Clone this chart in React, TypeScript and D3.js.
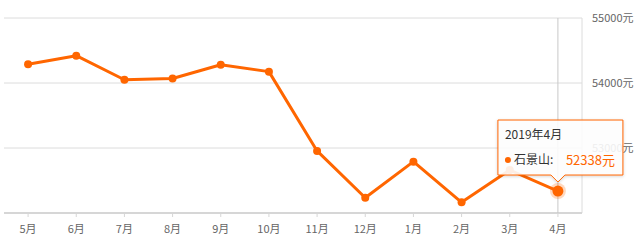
import React from "react";
import * as d3 from "d3";

const months = ["5月", "6月", "7月", "8月", "9月", "10月", "11月", "12月", "1月", "2月", "3月", "4月"];
const prices = [54290, 54420, 54050, 54070, 54280, 54175, 52955, 52235, 52790, 52165, 52660, 52338];
const yTicks = [53000, 54000, 55000];
const seriesName = "石景山";
const tooltipTitle = "2019年4月";

const W = 640;
const H = 242;
const ORANGE = "#ff6600";
const FONT = "'Noto Sans CJK SC', 'Microsoft YaHei', sans-serif";

export default function App() {
  const x = d3.scalePoint<string>().domain(months).range([4, 582]).padding(0.5);
  const y = d3.scaleLinear().domain([52000, 55000]).range([213, 18]);
  const line = d3
    .line<number>()
    .x((_, i) => x(months[i]) as number)
    .y((d) => y(d));

  const hi = months.length - 1;
  const hx = x(months[hi]) as number;
  const hy = y(prices[hi]);

  const left = 4;
  const right = 582;
  const top = y(55000);
  const bottom = y(52000);

  // tooltip geometry
  const tw = 125;
  const th = 55;
  const tx = hx - 60;
  const ty = hy - 71;

  return (
    <svg
      width={W}
      height={H}
      style={{ position: "absolute", left: 0, top: 0, fontFamily: FONT }}
    >
      <defs>
        <filter id="sh" x="-20%" y="-20%" width="140%" height="140%">
          <feDropShadow dx="0" dy="1" stdDeviation="1.5" floodColor="#000" floodOpacity="0.18" />
        </filter>
      </defs>
      {/* grid lines */}
      {yTicks.map((t) => (
        <line key={t} x1={left} x2={right} y1={y(t)} y2={y(t)} stroke="#dcdcdc" strokeWidth={1} />
      ))}
      {/* right border */}
      <line x1={right} x2={right} y1={top} y2={bottom} stroke="#dcdcdc" strokeWidth={1} />
      {/* y labels */}
      {yTicks.map((t) => (
        <text key={"l" + t} x={592} y={y(t)} dy="0.35em" fontSize={11} fill="#666">
          {t + "元"}
        </text>
      ))}
      {/* x axis */}
      <line x1={left} x2={right} y1={bottom} y2={bottom} stroke="#d6d6d6" strokeWidth={2} />
      {months.map((m) => (
        <g key={m}>
          <line x1={x(m)} x2={x(m)} y1={bottom} y2={bottom + 4} stroke="#d6d6d6" strokeWidth={1} />
          <text x={x(m)} y={229} dy="0.35em" textAnchor="middle" fontSize={11} fill="#666">
            {m}
          </text>
        </g>
      ))}
      {/* crosshair */}
      <line x1={hx} x2={hx} y1={top} y2={bottom} stroke="#c8c8c8" strokeWidth={1} />
      {/* line */}
      <path d={line(prices) || ""} fill="none" stroke={ORANGE} strokeWidth={3} strokeLinejoin="round" />
      {prices.map((p, i) =>
        i === hi ? null : (
          <circle key={i} cx={x(months[i])} cy={y(p)} r={4} fill={ORANGE} />
        )
      )}
      {/* highlighted point */}
      <circle cx={hx} cy={hy} r={8} fill={ORANGE} opacity={0.25} />
      <circle cx={hx} cy={hy} r={5.5} fill={ORANGE} />
      {/* tooltip */}
      <g filter="url(#sh)">
        <path
          d={`M${tx},${ty} H${tx + tw} V${ty + th} H${hx + 7} L${hx},${ty + th + 7} L${hx - 7},${ty + th} H${tx} Z`}
          fill="rgba(255,255,255,0.88)"
          stroke={ORANGE}
          strokeWidth={1}
        />
      </g>
      <text x={tx + 7} y={ty + 15} dy="0.35em" fontSize={12} fill="#333">
        {tooltipTitle}
      </text>
      <circle cx={tx + 10} cy={ty + 40} r={3} fill={ORANGE} />
      <text x={tx + 16} y={ty + 40} dy="0.35em" fontSize={12} fill="#333">
        {seriesName + ":"}
      </text>
      <text x={tx + 68} y={ty + 40} dy="0.35em" fontSize={13} fill={ORANGE}>
        {prices[hi] + "元"}
      </text>
    </svg>
  );
}
